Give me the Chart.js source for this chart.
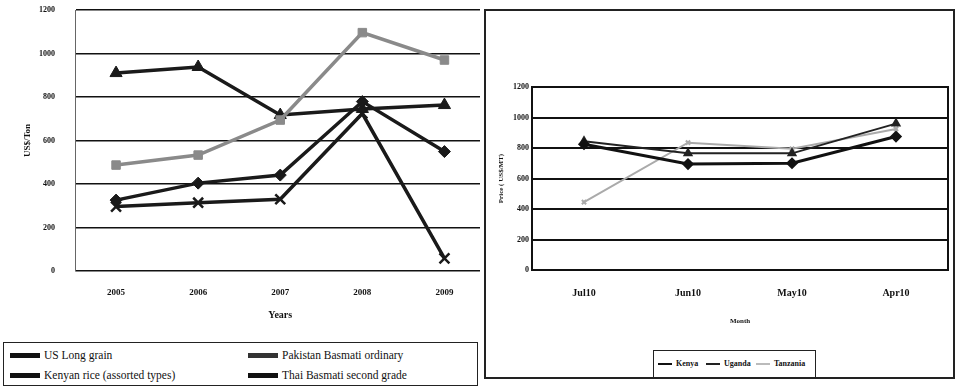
<!DOCTYPE html>
<html>
<head>
<meta charset="utf-8">
<script src="https://cdn.jsdelivr.net/npm/chart.js@4.4.0/dist/chart.umd.min.js"></script>
<style>
  body { margin: 0; width: 955px; height: 389px; background: #fff; position: relative; overflow: hidden;
         font-family: "Liberation Serif", serif; }
  #leftWrap { position: absolute; left: 0; top: 0; width: 480px; height: 335px; overflow: hidden; }
  #leftWrap canvas { position: absolute; left: 0; top: 0; }
  #rightFrame { position: absolute; left: 484px; top: 9px; width: 467px; height: 366px; border: 2px solid #222; }
  #rightWrap { position: absolute; left: 484px; top: 0; width: 471px; height: 345px; }
  .legend { position: absolute; border: 1.5px solid #222; background: #fff; color: #111; }
  #leftLegend { left: 3px; top: 342px; width: 473px; height: 42px; font-size: 11.5px; }
  #rightLegend { left: 653px; top: 350px; width: 161px; height: 26px; font-size: 8px; font-weight: bold; }
  .item { position: absolute; display: flex; align-items: center; white-space: nowrap; }
  .sample { display: inline-block; position: relative; margin-right: 4px; }
</style>
</head>
<body>
<div id="leftWrap"><canvas id="leftChart" width="495" height="330"></canvas></div>
<div id="leftLegend" class="legend"></div>
<div id="rightFrame"></div>
<div id="rightWrap"><canvas id="rightChart" width="471" height="345"></canvas></div>
<div id="rightLegend" class="legend"></div>

<script>
// Left chart: world rice prices by year
const years = ['2005', '2006', '2007', '2008', '2009'];
const usLongGrain = [326, 404, 441, 779, 549];
const pakistanBasmati = [487, 533, 694, 1096, 970];
const kenyanRice = [910, 938, 717, 745, 763];
const thaiBasmati = [296, 314, 330, 724, 58];

// Right chart: regional prices by month
const months = ['Jul10', 'Jun10', 'May10', 'Apr10'];
const kenya = [825, 695, 700, 875];
const uganda = [845, 765, 765, 960];
const tanzania = [445, 835, 795, 925];

const serif = '"Liberation Serif", serif';
const plain = v => String(v);

const leftSets = [
    { label: 'US Long grain', data: usLongGrain, color: '#1a1a1a', point: 'rectRot', r: 6 },
    { label: 'Pakistan Basmati ordinary', data: pakistanBasmati, color: '#8a8a8a', point: 'rect', r: 6 },
    { label: 'Kenyan rice (assorted types)', data: kenyanRice, color: '#1a1a1a', point: 'triangle', r: 7 },
    { label: 'Thai Basmati second grade', data: thaiBasmati, color: '#1a1a1a', point: 'crossRot', r: 7 }
];

new Chart(document.getElementById('leftChart'), {
    type: 'line',
    data: {
        labels: years,
        datasets: leftSets.map(s => ({
            label: s.label,
            data: s.data,
            borderColor: s.color,
            backgroundColor: s.color,
            borderWidth: 3.5,
            pointStyle: s.point,
            pointRadius: s.r,
            pointBorderWidth: s.point === 'crossRot' ? 2.5 : 1,
            pointBorderColor: s.color,
            tension: 0
        }))
    },
    options: {
        responsive: false,
        animation: false,
        layout: { padding: { top: 10, right: 0, bottom: 0, left: 0 } },
        plugins: { legend: { display: false }, tooltip: { enabled: false } },
        scales: {
            x: {
                offset: true,
                grid: { display: false, drawTicks: false },
                border: { display: false },
                ticks: { color: '#111', padding: 16, font: { family: serif, size: 9, weight: 'bold' } },
                title: { display: true, text: 'Years', color: '#111', padding: { top: 0, bottom: 9 },
                         font: { family: serif, size: 10, weight: 'bold' } },
                afterFit: s => { s.height = 59; }
            },
            y: {
                min: 0, max: 1200,
                ticks: { stepSize: 200, color: '#111', padding: 20, callback: plain,
                         font: { family: serif, size: 8, weight: 'bold' } },
                grid: { color: '#111', lineWidth: 1.6, drawTicks: false },
                border: { display: true, color: '#666', width: 1 },
                title: { display: true, text: 'US$/Ton', color: '#111', padding: { top: 22, bottom: 0 },
                         font: { family: serif, size: 9, weight: 'bold' } },
                afterFit: s => { s.width = 75; s.paddingTop = 0; }
            }
        }
    }
});

new Chart(document.getElementById('rightChart'), {
    type: 'line',
    data: {
        labels: months,
        datasets: [
            { label: 'Kenya', data: kenya, borderColor: '#111', backgroundColor: '#111', borderWidth: 3,
              pointStyle: 'rectRot', pointRadius: 4 },
            { label: 'Uganda', data: uganda, borderColor: '#222', backgroundColor: '#222', borderWidth: 2,
              pointStyle: 'triangle', pointRadius: 4 },
            { label: 'Tanzania', data: tanzania, borderColor: '#aaa', backgroundColor: '#aaa', borderWidth: 2,
              pointStyle: 'crossRot', pointRadius: 3 }
        ]
    },
    options: {
        responsive: false,
        animation: false,
        layout: { padding: { top: 87, right: 6, bottom: 0, left: 0 } },
        plugins: { legend: { display: false }, tooltip: { enabled: false } },
        scales: {
            x: {
                offset: true,
                grid: { display: false, drawTicks: false },
                border: { display: true, color: '#111', width: 2 },
                ticks: { color: '#111', padding: 17, font: { family: serif, size: 10, weight: 'bold' } },
                title: { display: true, text: 'Month', color: '#111', padding: { top: 0, bottom: 20 },
                         font: { family: serif, size: 7, weight: 'bold' } },
                afterFit: s => { s.height = 75; }
            },
            y: {
                min: 0, max: 1200,
                ticks: { stepSize: 200, color: '#111', padding: 3, callback: plain,
                         font: { family: serif, size: 8, weight: 'bold' } },
                grid: { color: '#111', lineWidth: 2, drawTicks: false },
                border: { display: true, color: '#111', width: 2 },
                title: { display: true, text: 'Price ( US$/MT)', color: '#111', padding: { top: 13, bottom: 0 },
                         font: { family: serif, size: 7, weight: 'bold' } },
                afterFit: s => { s.width = 48; }
            },
            y2: {
                position: 'right',
                min: 0, max: 1200,
                ticks: { display: false },
                grid: { drawOnChartArea: false, drawTicks: false },
                border: { display: true, color: '#111', width: 2 },
                afterFit: s => { s.width = 0; }
            }
        }
    }
});

// HTML legends built from the series definitions
function sample(color, width, thick) {
    return '<span class="sample" style="width:' + width + 'px;height:' + thick + 'px;background:' + color + '"></span>';
}

const leftLegend = document.getElementById('leftLegend');
const leftPos = [[6, 6], [244, 6], [6, 26], [244, 26]];
leftSets.forEach((s, i) => {
    const d = document.createElement('div');
    d.className = 'item';
    d.style.left = leftPos[i][0] + 'px';
    d.style.top = leftPos[i][1] + 'px';
    d.innerHTML = sample(s.color === '#8a8a8a' ? '#333' : '#111', 30, 5) + s.label;
    leftLegend.appendChild(d);
});

const rightLegend = document.getElementById('rightLegend');
[['Kenya', '#111', 4], ['Uganda', '#222', 52], ['Tanzania', '#bbb', 102]].forEach(([name, color, x]) => {
    const d = document.createElement('div');
    d.className = 'item';
    d.style.left = x + 'px';
    d.style.top = '8px';
    d.innerHTML = sample(color, 14, 2) + name;
    rightLegend.appendChild(d);
});
</script>
</body>
</html>
